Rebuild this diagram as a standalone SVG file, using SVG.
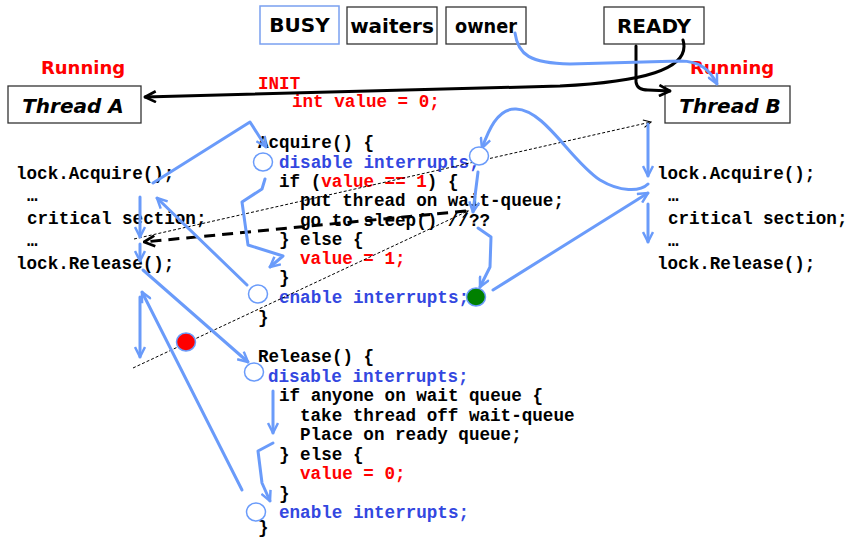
<svg xmlns="http://www.w3.org/2000/svg" width="850" height="539" viewBox="0 0 850 539">
<style>
.box{fill:#fff;stroke:#333;stroke-width:1.3}
.lbl{font-family:"DejaVu Sans",sans-serif;font-weight:bold;font-size:20px;fill:#000}
.thr{font-family:"DejaVu Sans",sans-serif;font-weight:bold;font-style:italic;font-size:20px;fill:#000}
.run{font-family:"DejaVu Sans",sans-serif;font-weight:bold;font-size:18px;fill:#ff0000}
.code{font-family:"Liberation Mono","Courier New",monospace;font-weight:bold;font-size:17.6px;fill:#000}
.red{fill:#ff0000}
.blu{fill:#3347e0}
.ba{fill:none;stroke:#6a9bfa;stroke-width:3;stroke-linejoin:round;stroke-linecap:round;marker-end:url(#mb)}
.bk{fill:none;stroke:#000;stroke-width:3;stroke-linecap:round;marker-end:url(#mk)}
.thin{fill:none;stroke:#000;stroke-width:1;stroke-dasharray:3 2;marker-end:url(#mt)}
.dash{fill:none;stroke:#000;stroke-width:3;stroke-dasharray:11 7;marker-end:url(#mk)}
.pt{stroke:#6a9bfa;stroke-width:1.5;fill:#fff}
</style>
<defs>
<marker id="mb" viewBox="0 0 12 12" refX="11" refY="6" markerWidth="12" markerHeight="12" markerUnits="userSpaceOnUse" orient="auto"><path d="M1,1 L11,6 L1,11" fill="none" stroke="#6a9bfa" stroke-width="2.5" stroke-linejoin="round"/></marker>
<marker id="mk" viewBox="0 0 12 12" refX="11" refY="6" markerWidth="13" markerHeight="13" markerUnits="userSpaceOnUse" orient="auto"><path d="M1,1 L11,6 L1,11" fill="none" stroke="#000" stroke-width="2.5" stroke-linejoin="round"/></marker>
<marker id="mt" viewBox="0 0 12 12" refX="11" refY="6" markerWidth="9" markerHeight="9" markerUnits="userSpaceOnUse" orient="auto"><path d="M1,1 L11,6 L1,11" fill="none" stroke="#000" stroke-width="1.5"/></marker>
</defs>
<rect width="850" height="539" fill="#fff"/>

<g id="busy"><rect x="260" y="6" width="79" height="38" fill="#fff" stroke="#7aa0f0" stroke-width="1.5"/><text class="lbl" x="299.5" y="32" text-anchor="middle">BUSY</text></g>
<g id="waiters"><rect class="box" x="347" y="7" width="90" height="37"/><text class="lbl" x="392" y="33" text-anchor="middle">waiters</text></g>
<g id="owner"><rect class="box" x="446" y="7" width="80" height="37"/><text class="lbl" x="486" y="33" text-anchor="middle" textLength="62" lengthAdjust="spacingAndGlyphs">owner</text></g>
<g id="ready"><rect class="box" x="604" y="7" width="100" height="37"/><text class="lbl" x="654" y="33" text-anchor="middle">READY</text></g>
<g id="threadA"><text class="run" x="83" y="74" text-anchor="middle">Running</text><rect class="box" x="8" y="86" width="133" height="37"/><text class="thr" x="73" y="113" text-anchor="middle">Thread A</text></g>
<g id="threadB"><text class="run" x="732" y="74" text-anchor="middle">Running</text><rect class="box" x="665" y="86" width="125" height="37"/><text class="thr" x="730" y="113" text-anchor="middle">Thread B</text></g>
<g id="init"><text class="code red" x="258" y="89">INIT</text><text class="code red" x="292" y="107">int value = 0;</text></g>

<g id="codeA">
<text class="code" x="16" y="179">lock.Acquire();</text>
<text class="code" x="27" y="201">…</text>
<text class="code" x="27" y="224">critical section;</text>
<text class="code" x="27" y="246">…</text>
<text class="code" x="16" y="269">lock.Release();</text>
</g>
<g id="codeB">
<text class="code" x="657" y="179">lock.Acquire();</text>
<text class="code" x="668" y="201">…</text>
<text class="code" x="668" y="224">critical section;</text>
<text class="code" x="668" y="246">…</text>
<text class="code" x="657" y="269">lock.Release();</text>
</g>
<g id="acquire">
<text class="code" x="258" y="148">Acquire() {</text>
<text class="code blu" x="279" y="167.5">disable interrupts;</text>
<text class="code" x="279" y="187">if (<tspan class="red">value == 1</tspan>) {</text>
<text class="code" x="300" y="206">put thread on wait-queue;</text>
<text class="code" x="300" y="225.5">go to sleep() //??</text>
<text class="code" x="279" y="245">} else {</text>
<text class="code red" x="300" y="264">value = 1;</text>
<text class="code" x="279" y="283">}</text>
<text class="code blu" x="279" y="303">enable interrupts;</text>
<text class="code" x="258" y="322.5">}</text>
</g>
<g id="release">
<text class="code" x="258" y="362">Release() {</text>
<text class="code blu" x="268" y="382">disable interrupts;</text>
<text class="code" x="279" y="401">if anyone on wait queue {</text>
<text class="code" x="300" y="421">take thread off wait-queue</text>
<text class="code" x="300" y="440">Place on ready queue;</text>
<text class="code" x="279" y="460">} else {</text>
<text class="code red" x="300" y="479">value = 0;</text>
<text class="code" x="279" y="499">}</text>
<text class="code blu" x="279" y="518">enable interrupts;</text>
<text class="code" x="258" y="533">}</text>
</g>

<g id="connectors">
<path class="bk" d="M683,40 C692,70 640,82 560,86 L145,97"/>
<path class="bk" d="M636,46 L636,82 Q637,90 648,90 L670,91"/>
<path class="ba" d="M515,33 C518,55 530,63 570,64 L680,61 C700,61 710,70 717,84"/>
<path class="thin" d="M134,239 L651,122"/>
<path class="thin" d="M133,368 L468,211"/>
<path class="dash" d="M466,211 L144,242"/>
<path class="ba" d="M153,183 L250,122 L266,147"/>
<path class="ba" d="M265,179 L262,189 L242,202 L248,245 L283,256 L270,267"/>
<path class="ba" d="M247,285 L157,198"/>
<path class="ba" d="M140,197 L140,237"/>
<path class="ba" d="M140,244 L140,261"/>
<path class="ba" d="M143,270 L248,362"/>
<path class="ba" d="M242,490 L142,292"/>
<path class="ba" d="M140,297 L140,357"/>
<path class="ba" d="M273,391 L273,433"/>
<path class="ba" d="M273,443 L258,451 L262,483 L270,501"/>
<path class="ba" d="M648,184 C640,192 620,192 600,180 C570,160 545,110 516,109 C497,108 488,132 482,148"/>
<path class="ba" d="M648,124 L648,176"/>
<path class="ba" d="M648,204 L648,242"/>
<path class="ba" d="M493,290 L648,193"/>
<path class="ba" d="M478,172 L473,212"/>
<path class="ba" d="M478,228 L491,237 L490,267 L480,287"/>
</g>

<g id="points">
<ellipse class="pt" cx="263" cy="162" rx="9.5" ry="9"/>
<ellipse class="pt" cx="258" cy="294" rx="9.5" ry="9"/>
<ellipse class="pt" cx="479" cy="156" rx="9.5" ry="9"/>
<ellipse class="pt" cx="476" cy="297" rx="9.5" ry="9" style="fill:#008000"/>
<ellipse class="pt" cx="186" cy="342" rx="9.5" ry="9" style="fill:#ff0000"/>
<ellipse class="pt" cx="254" cy="372" rx="9.5" ry="9"/>
<ellipse class="pt" cx="256" cy="512" rx="9.5" ry="9"/>
</g>
</svg>
